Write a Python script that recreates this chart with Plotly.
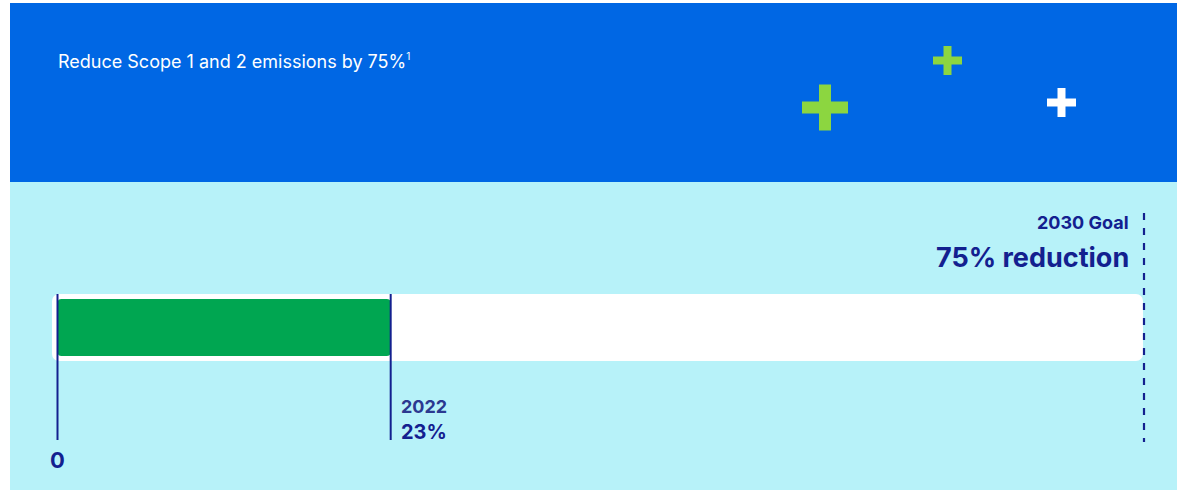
import plotly.graph_objects as go

# ---- data ----
progress_years = ["2022"]
progress_values = [23]
start_value = 0
goal_value = 75
goal_label = "2030 Goal"
goal_text = "75% reduction"
title_main = "Reduce Scope 1 and 2 emissions by 75%"
title_note = "1"

# ---- layout constants ----
W, H = 1177, 490
X0_PX, XG_PX = 57.5, 1144.0
scale = (XG_PX - X0_PX) / goal_value
x_range = [-X0_PX / scale, (W - X0_PX) / scale]

NAVY = "#13208f"
NAVY2 = "#2b3990"
BLUE = "#0067e4"
CYAN = "#b7f2f9"
GREEN = "#00a651"
LIME = "#8cd640"
FONT = "Inter"

BAR_Y = 327.5


def px(xp):
    return xp / W


fig = go.Figure()

# white track (0 .. goal)
track_pad = 5.5 / scale
fig.add_trace(go.Bar(
    y=[BAR_Y], x=[goal_value - 0.07 + track_pad], base=[start_value - track_pad],
    width=[67], orientation="h", marker=dict(color="white", cornerradius=7, line=dict(width=0)),
    hoverinfo="skip"))

# progress bar
fig.add_trace(go.Bar(
    y=[BAR_Y] * len(progress_values), x=progress_values, base=[start_value] * len(progress_values),
    width=[57] * len(progress_values), orientation="h",
    marker=dict(color=GREEN, cornerradius=4, line=dict(width=0)),
    hoverinfo="skip"))

shapes = []
# panels
shapes.append(dict(type="rect", xref="paper", yref="y", x0=px(10), x1=1, y0=3, y1=182,
                   fillcolor=BLUE, line=dict(width=0), layer="below"))
shapes.append(dict(type="rect", xref="paper", yref="y", x0=px(10), x1=1, y0=182, y1=H,
                   fillcolor=CYAN, line=dict(width=0), layer="below"))

# plus signs
def plus(cx, cy, size, thick, color):
    return [
        dict(type="rect", xref="paper", yref="y", x0=px(cx - size / 2), x1=px(cx + size / 2),
             y0=cy - thick / 2, y1=cy + thick / 2, fillcolor=color, line=dict(width=0), layer="below"),
        dict(type="rect", xref="paper", yref="y", x0=px(cx - thick / 2), x1=px(cx + thick / 2),
             y0=cy - size / 2, y1=cy + size / 2, fillcolor=color, line=dict(width=0), layer="below"),
    ]

shapes += plus(825, 107.5, 46, 12, LIME)
shapes += plus(947.5, 60.5, 29, 8, LIME)
shapes += plus(1061.5, 102.5, 29, 8, "white")

# marker lines
shapes.append(dict(type="line", xref="x", yref="y", x0=start_value, x1=start_value, y0=294, y1=440,
                   line=dict(color=NAVY, width=2)))
for v in progress_values:
    shapes.append(dict(type="line", xref="x", yref="y", x0=v, x1=v, y0=294, y1=440,
                       line=dict(color=NAVY, width=2)))
shapes.append(dict(type="line", xref="x", yref="y", x0=goal_value, x1=goal_value, y0=213, y1=442,
                   line=dict(color=NAVY, width=2.2, dash="7px,8px")))

title_text = f"{title_main}<sup><span style='font-size:10px'>{title_note}</span></sup>"

annotations = [
    dict(text=title_text, xref="paper", yref="y", x=px(56), y=61, xanchor="left", yanchor="middle",
         showarrow=False, font=dict(family=FONT, size=18, color="white")),
    dict(text=goal_label, xref="x", yref="y", x=goal_value, xshift=-13, y=222, xanchor="right",
         yanchor="middle", showarrow=False, font=dict(family=FONT, size=18, color=NAVY, weight=700)),
    dict(text=goal_text, xref="x", yref="y", x=goal_value, xshift=-13, y=257, xanchor="right",
         yanchor="middle", showarrow=False, font=dict(family=FONT, size=27, color=NAVY, weight=700)),
    dict(text=str(start_value), xref="x", yref="y", x=start_value, y=460, xanchor="center",
         yanchor="middle", showarrow=False, font=dict(family=FONT, size=22, color=NAVY, weight=700)),
]
for yr, v in zip(progress_years, progress_values):
    annotations.append(dict(text=yr, xref="x", yref="y", x=v, xshift=8, y=406, xanchor="left",
                            yanchor="middle", showarrow=False,
                            font=dict(family=FONT, size=18, color=NAVY2, weight=700)))
    annotations.append(dict(text=f"{v}%", xref="x", yref="y", x=v, xshift=8, y=432, xanchor="left",
                            yanchor="middle", showarrow=False,
                            font=dict(family=FONT, size=20, color=NAVY, weight=700)))

fig.update_layout(
    width=W, height=H, margin=dict(l=0, r=0, t=0, b=0),
    paper_bgcolor="white", plot_bgcolor="white",
    barmode="overlay", showlegend=False,
    xaxis=dict(range=x_range, visible=False, fixedrange=True),
    yaxis=dict(range=[H, 0], visible=False, fixedrange=True),
    shapes=shapes, annotations=annotations,
)

fig.write_html("out.html", config={"displayModeBar": False},
               post_script="document.body.style.margin='0';")
